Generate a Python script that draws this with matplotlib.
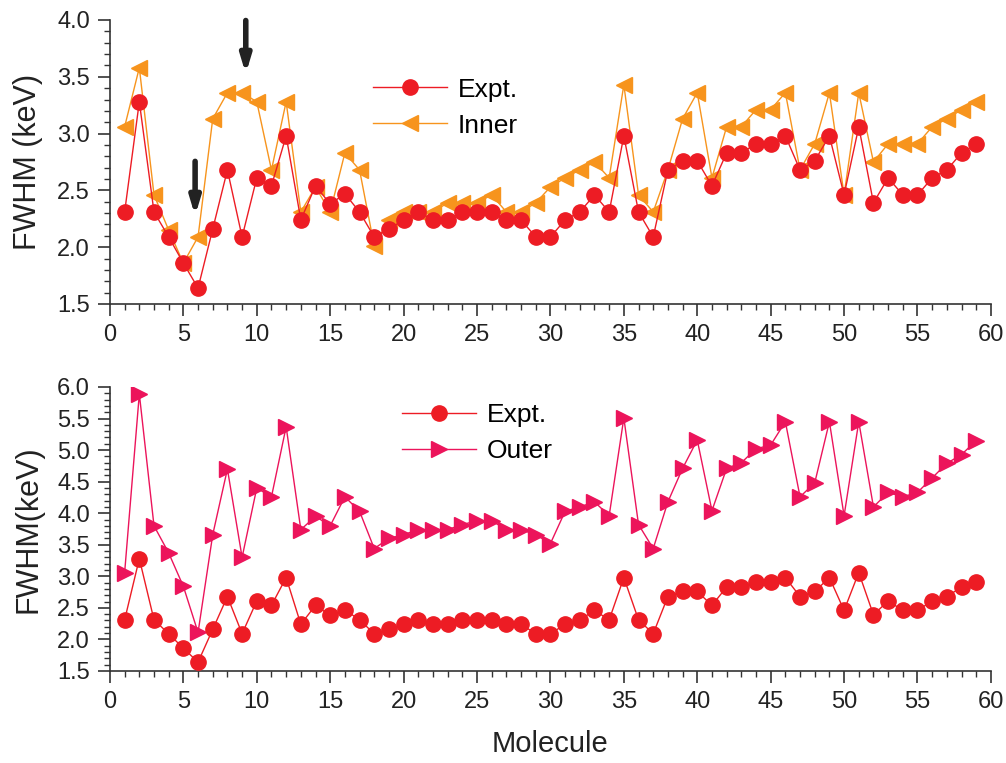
import numpy as np
import matplotlib
matplotlib.use('Agg')
from matplotlib import pyplot as plt
from matplotlib.ticker import MultipleLocator

plt.rcParams['font.family'] = ['Liberation Sans', 'DejaVu Sans']

# molecule index 1..59
molecule = list(range(1, 60))

expt = [2.31, 3.28, 2.31, 2.09, 1.86, 1.64, 2.16, 2.68, 2.09, 2.61,
        2.54, 2.98, 2.24, 2.54, 2.38, 2.47, 2.31, 2.09, 2.16, 2.24,
        2.31, 2.24, 2.24, 2.31, 2.31, 2.31, 2.24, 2.24, 2.09, 2.09,
        2.24, 2.31, 2.46, 2.31, 2.98, 2.31, 2.09, 2.68, 2.76, 2.76,
        2.54, 2.83, 2.83, 2.91, 2.91, 2.98, 2.68, 2.76, 2.98, 2.46,
        3.06, 2.39, 2.61, 2.46, 2.46, 2.61, 2.68, 2.83, 2.91]

inner = [3.06, 3.58, 2.46, 2.15, 1.86, 2.09, 3.13, 3.36, 3.36, 3.28,
         2.68, 3.28, 2.31, 2.53, 2.31, 2.83, 2.68, 2.01, 2.24, 2.31,
         2.31, 2.31, 2.39, 2.39, 2.39, 2.46, 2.31, 2.31, 2.39, 2.53,
         2.61, 2.68, 2.75, 2.61, 3.43, 2.46, 2.31, 2.68, 3.13, 3.36,
         2.61, 3.06, 3.06, 3.21, 3.21, 3.36, 2.68, 2.91, 3.36, 2.46,
         3.36, 2.75, 2.91, 2.91, 2.91, 3.06, 3.13, 3.21, 3.28]

outer = [3.06, 5.89, 3.80, 3.37, 2.84, 2.11, 3.66, 4.70, 3.30, 4.40,
         4.26, 5.37, 3.74, 3.95, 3.80, 4.26, 4.03, 3.44, 3.60, 3.66,
         3.74, 3.74, 3.74, 3.82, 3.88, 3.88, 3.74, 3.74, 3.66, 3.52,
         4.03, 4.10, 4.18, 3.96, 5.51, 3.82, 3.44, 4.18, 4.71, 5.16,
         4.04, 4.71, 4.80, 5.02, 5.08, 5.45, 4.26, 4.48, 5.45, 3.96,
         5.45, 4.10, 4.33, 4.26, 4.33, 4.56, 4.79, 4.93, 5.15]

red = '#ED1C24'
orange = '#F7941D'
magenta = '#EC145B'

fig = plt.figure(figsize=(10.06, 7.63), dpi=100)
ax1 = fig.add_axes([0.1093, 0.6016, 0.8757, 0.3722])
ax2 = fig.add_axes([0.1093, 0.1206, 0.8757, 0.3722])

for ax in (ax1, ax2):
    for s in ('top', 'right'):
        ax.spines[s].set_visible(False)
    for s in ('left', 'bottom'):
        ax.spines[s].set_color('#333333')
        ax.spines[s].set_linewidth(1.2)
    ax.set_xlim(0, 60)
    ax.xaxis.set_major_locator(MultipleLocator(5))
    ax.xaxis.set_minor_locator(MultipleLocator(1))
    ax.yaxis.set_major_locator(MultipleLocator(0.5))
    ax.yaxis.set_minor_locator(MultipleLocator(0.1))
    ax.tick_params(which='major', direction='out', length=8.5, width=1.2,
                   colors='#333333', labelsize=17, labelcolor='#222222', pad=6)
    ax.tick_params(which='minor', direction='out', length=4.5, width=1.0, colors='#333333')

# top panel: experiment vs inner
ax1.plot(molecule, expt, '-o', color=red, lw=1, ms=11, mec=red, label='Expt.', zorder=3)
ax1.plot(molecule, inner, '-<', color=orange, lw=1, ms=12, mec=orange, label='Inner', zorder=2)
ax1.set_ylim(1.5, 4.0)
ax1.set_ylabel('FWHM (keV)', fontsize=22, color='#222222', labelpad=10)
ax1.legend(loc='upper left', bbox_to_anchor=(0.287, 0.834), frameon=False, fontsize=19,
           handlelength=2.8, handletextpad=0.4, labelspacing=0.45, borderaxespad=0)

# arrows marking the molecules
ax1.annotate('', xy=(9.25, 3.5), xytext=(9.25, 4.02),
             arrowprops=dict(arrowstyle='-|>,head_width=0.3,head_length=1.0', lw=4, color='#222222'))
ax1.annotate('', xy=(5.8, 2.25), xytext=(5.8, 2.78),
             arrowprops=dict(arrowstyle='-|>,head_width=0.3,head_length=1.0', lw=4, color='#222222'))

# bottom panel: experiment vs outer
ax2.plot(molecule, expt, '-o', color=red, lw=1, ms=11, mec=red, label='Expt.', zorder=3)
ax2.plot(molecule, outer, '->', color=magenta, lw=1, ms=12, mec=magenta, label='Outer', zorder=2)
ax2.set_ylim(1.5, 6.0)
ax2.set_ylabel('FWHM(keV)', fontsize=22, color='#222222', labelpad=10)
ax2.set_xlabel('Molecule', fontsize=21, color='#222222', labelpad=12)
ax2.legend(loc='upper left', bbox_to_anchor=(0.32, 0.98), frameon=False, fontsize=19,
           handlelength=2.8, handletextpad=0.4, labelspacing=0.45, borderaxespad=0)

fig.savefig('out.png', dpi=100)
